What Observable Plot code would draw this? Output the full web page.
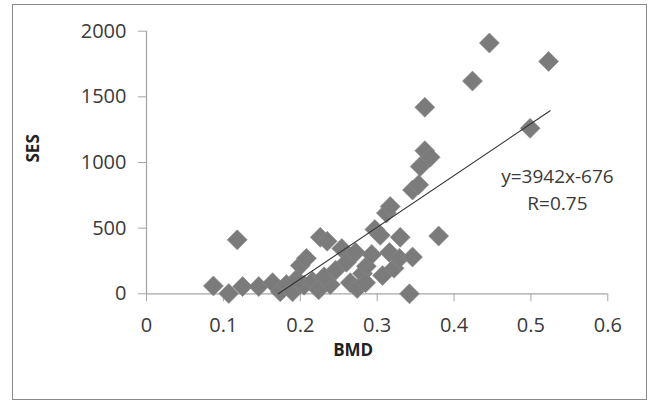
<!DOCTYPE html>
<html>
<head>
<meta charset="utf-8">
<script src="https://cdn.jsdelivr.net/npm/d3@7"></script>
<script src="https://cdn.jsdelivr.net/npm/@observablehq/plot@0.6"></script>
<style>
  body { margin: 0; background: #fff; }
  #wrap { position: relative; width: 650px; height: 401px; }
  #border { position: absolute; left: 12px; top: 4px; width: 633px; height: 394px; border: 1.5px solid #8a8a8a; pointer-events: none; }
</style>
</head>
<body>
<div id="wrap"><div id="border"></div></div>
<script>
// Data
const bmd = [0.087, 0.107, 0.118, 0.125, 0.146, 0.164, 0.174, 0.182, 0.190, 0.195,
             0.200, 0.208, 0.205, 0.216, 0.224, 0.226, 0.235, 0.239, 0.231, 0.246,
             0.254, 0.260, 0.265, 0.272, 0.274, 0.281, 0.286, 0.285, 0.293, 0.297,
             0.304, 0.307, 0.312, 0.317, 0.316, 0.322, 0.329, 0.330, 0.342, 0.346,
             0.346, 0.354, 0.356, 0.362, 0.369, 0.362, 0.380, 0.424, 0.446, 0.499,
             0.523];
const ses = [60, 2, 411, 55, 55, 85, 15, 70, 15, 110,
             215, 270, 65, 95, 30, 430, 400, 70, 130, 180,
             345, 240, 85, 315, 40, 155, 210, 85, 300, 490,
             445, 140, 615, 665, 315, 195, 270, 430, 0, 280,
             790, 830, 970, 1090, 1040, 1420, 440, 1620, 1910, 1260,
             1770];
const fitSlope = 3942;
const fitIntercept = -676;
const fitEndX = 0.525;
const fitLabel = "y=3942x-676";
const rLabel = "R=0.75";
const xTicks = [0, 0.1, 0.2, 0.3, 0.4, 0.5, 0.6];
const xTickLabels = ["0", "0.1", "0.2", "0.3", "0.4", "0.5", "0.6"];
const yTicks = [0, 500, 1000, 1500, 2000];
const yTickLabels = ["0", "500", "1000", "1500", "2000"];
const xTitle = "BMD";
const yTitle = "SES";

const points = bmd.map((x, i) => ({x, y: ses[i]}));
const fitXs = [-fitIntercept / fitSlope, fitEndX];
const fitLine = fitXs.map(x => ({x, y: fitSlope * x + fitIntercept}));

const diamond = {
  draw(context, size) {
    const h = Math.sqrt(size / Math.PI);
    context.moveTo(0, -h);
    context.lineTo(h, 0);
    context.lineTo(0, h);
    context.lineTo(-h, 0);
    context.closePath();
  }
};

const axisColor = "#a6a6a6";
const textColor = "#3a3a3a";
const font = "'Open Sans', sans-serif";

const chart = Plot.plot({
  width: 650,
  height: 401,
  marginLeft: 146,
  marginRight: 42.7,
  marginTop: 30.7,
  marginBottom: 107.7,
  style: {fontFamily: font, fontSize: "20px", color: textColor, background: "transparent"},
  x: {domain: [0, 0.6]},
  y: {domain: [0, 2000]},
  marks: [
    Plot.ruleY([0], {stroke: axisColor, strokeWidth: 1.3}),
    Plot.ruleX([0], {stroke: axisColor, strokeWidth: 1.3}),
    Plot.axisX({ticks: xTicks, tickFormat: (d, i) => xTickLabels[i], tickSize: 8, tickPadding: 16, stroke: axisColor, label: null}),
    Plot.axisY({ticks: yTicks, tickFormat: (d, i) => yTickLabels[i], tickSize: 8, tickPadding: 12, stroke: axisColor, label: null}),
    Plot.dot(points, {x: "x", y: "y", symbol: diamond, r: 10, fill: "#7b7b7b", stroke: "#8a8a8a", strokeWidth: 0.6}),
    Plot.line(fitLine, {x: "x", y: "y", stroke: "#333", strokeWidth: 1.1}),
    Plot.text([fitLabel + "\n" + rLabel], {x: [0.5345], y: [809], text: d => d, lineHeight: 1.45, fill: textColor, fontSize: 19}),
    Plot.text([xTitle], {frameAnchor: "bottom", dy: 62, dx: -24, text: d => d, fontWeight: "bold", fontSize: 17, fill: "#222"}),
    Plot.text([yTitle], {frameAnchor: "left", dx: -113, rotate: -90, text: d => d, fontWeight: "bold", fontSize: 17, fill: "#222"})
  ]
});
document.getElementById("wrap").prepend(chart);
</script>
</body>
</html>
